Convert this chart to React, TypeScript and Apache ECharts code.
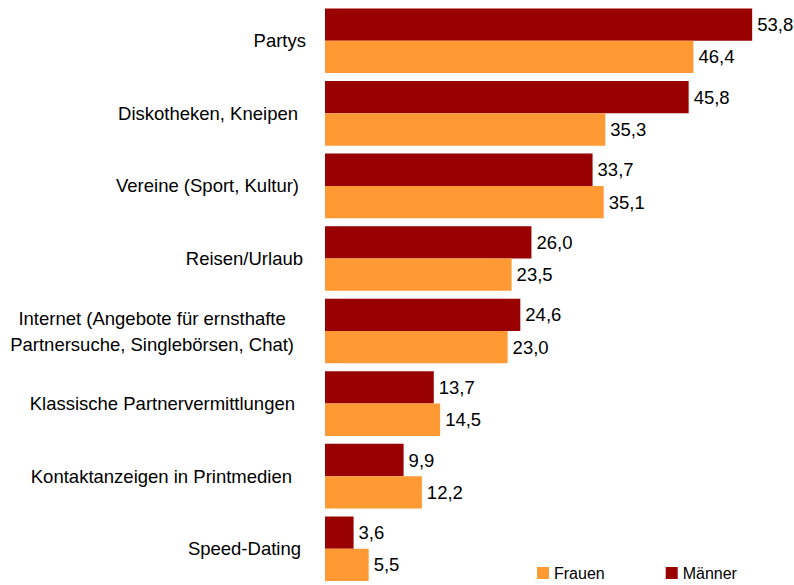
import React, { useEffect, useRef } from "react";
import * as echarts from "echarts";

const categories = [
  "Partys",
  "Diskotheken, Kneipen",
  "Vereine (Sport, Kultur)",
  "Reisen/Urlaub",
  "Internet (Angebote für ernsthafte\nPartnersuche, Singlebörsen, Chat)",
  "Klassische Partnervermittlungen",
  "Kontaktanzeigen in Printmedien",
  "Speed-Dating",
];
const maenner = [53.8, 45.8, 33.7, 26.0, 24.6, 13.7, 9.9, 3.6];
const frauen = [46.4, 35.3, 35.1, 23.5, 23.0, 14.5, 12.2, 5.5];

// extra right padding of each category label (style only)
const labelPad = [0, 8, 7, 3, 12, 11, 14, 5];

const fmt = (v: number) => v.toFixed(1).replace(".", ",");
const FONT = "Liberation Sans, Arial, sans-serif";

export default function App() {
  const ref = useRef<HTMLDivElement>(null);
  useEffect(() => {
    if (!ref.current) return;
    const chart = echarts.init(ref.current, null, { renderer: "svg" });
    const rich: Record<string, any> = {};
    labelPad.forEach((p, i) => {
      rich["l" + i] = {
        fontSize: 18.5,
        fontFamily: FONT,
        color: "#000",
        align: "center",
        lineHeight: 26,
        padding: [0, p, 0, 0],
      };
    });
    const valueLabel = {
      show: true,
      position: "right",
      distance: 5,
      fontSize: 18.5,
      color: "#000",
      fontFamily: FONT,
      formatter: (p: any) => fmt(p.value),
    };
    chart.setOption({
      animation: false,
      textStyle: { fontFamily: FONT },
      grid: { left: 325, right: 32.3, top: 4.5, bottom: -7, containLabel: false },
      legend: {
        data: ["Frauen", "Männer"],
        left: 532,
        top: 560,
        itemWidth: 12,
        itemHeight: 12,
        itemGap: 61,
        icon: "rect",
        textStyle: { fontSize: 16, color: "#000", fontFamily: FONT },
      },
      xAxis: {
        type: "value",
        min: 0,
        max: 55,
        show: false,
        splitLine: { show: false },
      },
      yAxis: {
        type: "category",
        data: categories,
        inverse: true,
        axisLine: { show: false },
        axisTick: { show: false },
        axisLabel: {
          margin: 19,
          formatter: (val: string) => {
            const i = categories.indexOf(val);
            return val
              .split("\n")
              .map((l) => "{l" + i + "|" + l + "}")
              .join("\n");
          },
          rich,
        },
      },
      series: [
        {
          name: "Männer",
          type: "bar",
          data: maenner,
          barGap: "0%",
          barCategoryGap: "11%",
          itemStyle: { color: "#990000" },
          label: valueLabel,
        },
        {
          name: "Frauen",
          type: "bar",
          data: frauen,
          barGap: "0%",
          barCategoryGap: "11%",
          itemStyle: { color: "#FF9933" },
          label: valueLabel,
        },
      ],
    });
    return () => chart.dispose();
  }, []);
  return (
    <div
      ref={ref}
      style={{ position: "fixed", left: 0, top: 0, width: 794, height: 585, background: "#fff" }}
    />
  );
}
